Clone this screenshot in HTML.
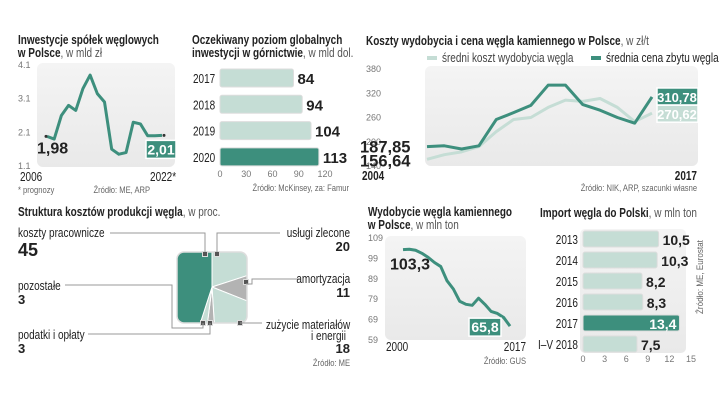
<!DOCTYPE html>
<html><head><meta charset="utf-8"><style>
body{margin:0;background:#fff}
svg{display:block;font-family:"Liberation Sans",sans-serif}
.t{font-weight:bold;font-size:12.5px;fill:#222}
.tn{font-weight:normal;fill:#555}
.tk{font-size:9px;fill:#777}
.src{font-size:9.5px;fill:#666}
.big{font-weight:bold;font-size:15px;fill:#222}
.lbl{font-size:12.5px;fill:#222}
</style></head><body>
<svg id="c" width="720" height="406" viewBox="0 0 720 406">
<defs>
<linearGradient id="bg" x1="0" y1="0" x2="0" y2="1"><stop offset="0" stop-color="#f4f4f4"/><stop offset="1" stop-color="#e9e9e9"/></linearGradient>
<clipPath id="sq"><rect x="177" y="252" width="70" height="71" rx="7"/></clipPath>
</defs>
<text x="18" y="44" class="t">Inwestycje spółek węglowych</text>
<text x="18" y="57" class="t">w Polsce<tspan class="tn">, w mld zł</tspan></text>
<text x="192" y="44" class="t">Oczekiwany poziom globalnych</text>
<text x="192" y="57" class="t">inwestycji w górnictwie<tspan class="tn">, w mld dol.</tspan></text>
<text x="366" y="45" class="t">Koszty wydobycia i cena węgla kamiennego w Polsce<tspan class="tn">, w zł/t</tspan></text>
<text x="18" y="216" class="t">Struktura kosztów produkcji węgla<tspan class="tn">, w proc.</tspan></text>
<text x="368" y="216" class="t">Wydobycie węgla kamiennego</text>
<text x="368" y="229" class="t">w Polsce<tspan class="tn">, w mln ton</tspan></text>
<text x="540" y="217" class="t">Import węgla do Polski<tspan class="tn">, w mln ton</tspan></text>

<rect x="37" y="63" width="138" height="104" rx="6" fill="url(#bg)"/>
<rect x="425" y="66" width="273" height="100" rx="6" fill="url(#bg)"/>
<rect x="385" y="236" width="141" height="104" rx="6" fill="url(#bg)"/>
<rect x="580" y="229" width="106" height="124" rx="5" fill="url(#bg)"/>

<line x1="427" y1="58" x2="437" y2="58" stroke="#c5ddd5" stroke-width="4"/>
<text x="442" y="62" class="lbl" style="fill:#444">średni koszt wydobycia węgla</text>
<line x1="591" y1="58" x2="601" y2="58" stroke="#3d8f7d" stroke-width="4"/>
<text x="606" y="62" class="lbl">średnia cena zbytu węgla</text>

<g id="g"></g>

<text x="20" y="181" class="lbl">2006</text>
<text x="176" y="181" class="lbl" text-anchor="end">2022*</text>
<text x="18" y="193" class="src">* prognozy</text>
<text x="150" y="193" class="src" text-anchor="end">Źródło: ME, ARP</text>
<text x="349" y="191" class="src" text-anchor="end">Źródło: McKinsey, za: Famur</text>
<text x="362" y="180" class="lbl" style="font-weight:bold">2004</text>
<text x="697" y="180" class="lbl" style="font-weight:bold" text-anchor="end">2017</text>
<text x="697" y="191" class="src" text-anchor="end">Źródło: NIK, ARP, szacunki własne</text>
<text x="386" y="351" class="lbl">2000</text>
<text x="526" y="351" class="lbl" text-anchor="end">2017</text>
<text x="526" y="364" class="src" text-anchor="end">Źródło: GUS</text>
<text transform="translate(703,314) rotate(-90) scale(0.85,1)" class="src">Źródło: ME, Eurostat</text>

<g fill="none" stroke="#999" stroke-width="1">
<polyline points="110,233 205,233 205,252"/>
<polyline points="280,233 217,233 217,252"/>
<polyline points="300,279 252,279 252,284 246,284"/>
<polyline points="65,285 172,285 172,328 203,328 203,323"/>
<polyline points="88,334 210,334 210,323"/>
<polyline points="262,323 240,323"/>
</g>
<text x="18" y="237" class="lbl">koszty pracownicze</text>
<text x="18" y="256" class="big" style="font-size:18px">45</text>
<text x="350" y="237" class="lbl" text-anchor="end">usługi zlecone</text>
<text x="350" y="251" class="big" style="font-size:13px" text-anchor="end">20</text>
<text x="350" y="283" class="lbl" text-anchor="end">amortyzacja</text>
<text x="350" y="297" class="big" style="font-size:13px" text-anchor="end">11</text>
<text x="18" y="290" class="lbl">pozostałe</text>
<text x="18" y="304" class="big" style="font-size:13px">3</text>
<text x="350" y="329" class="lbl" text-anchor="end">zużycie materiałów</text>
<text x="346" y="340" class="lbl" text-anchor="end">i energii</text>
<text x="350" y="353" class="big" style="font-size:13px" text-anchor="end">18</text>
<text x="18" y="339" class="lbl">podatki i opłaty</text>
<text x="18" y="353" class="big" style="font-size:13px">3</text>
<text x="350" y="366" class="src" text-anchor="end">Źródło: ME</text>
</svg>
<script>
// Investment line
const invYears=[2006,2007,2008,2009,2010,2011,2012,2013,2014,2015,2016,2017,2018,2019,2020,2021,2022];
const invValues=[1.98,1.9,2.6,2.9,2.75,3.4,3.8,3.25,3.0,1.6,1.45,1.5,2.4,2.35,2.0,2.0,2.01];
const invTicks=["4.1","3.1","2.1","1.1"];
// Global investment bars
const glYears=["2017","2018","2019","2020"];
const glValues=[84,94,104,113];
const glTicks=[0,30,60,90,120];
// Cost & price
const cpYears=[2004,2005,2006,2007,2008,2009,2010,2011,2012,2013,2014,2015,2016,2017];
const priceValues=[187.85,190,182,190,255,272,290,340,340,292,278,260,246,310.78];
const costValues=[156.64,168,175,188,225,255,260,285,303,300,307,285,250,270.62];
const cpTicks=[380,320,260,200,140];
// Cost structure
const structCats=["usługi zlecone","amortyzacja","zużycie materiałów i energii","podatki i opłaty","pozostałe","koszty pracownicze"];
const structValues=[20,11,18,3,3,45];
const structColors=["#c5ddd5","#b3b3b3","#c5ddd5","#b3b3b3","#c5ddd5","#3d8f7d"];
// Output line
const outYears=[2000,2001,2002,2003,2004,2005,2006,2007,2008,2009,2010,2011,2012,2013,2014,2015,2016,2017];
const outValues=[103.3,103.5,103.0,101.5,99.5,97.0,95.0,88.0,84.0,78.0,76.5,76.0,79.5,76.5,73.0,72.0,70.0,65.8];
const outTicks=[109,99,89,79,69,59];
// Import bars
const impYears=["2013","2014","2015","2016","2017","I–V 2018"];
const impValues=[10.5,10.3,8.2,8.3,13.4,7.5];
const impTicks=[0,3,6,9,12,15];

const NS="http://www.w3.org/2000/svg";
const G=document.getElementById('g');
function mk(tag,attrs,txt){const e=document.createElementNS(NS,tag);for(const k in attrs)e.setAttribute(k,attrs[k]);if(txt!==undefined)e.textContent=txt;G.appendChild(e);return e;}
const fmt=v=>v.toFixed(v%1===0?0:(String(v).split('.')[1]||'').length).replace('.',',');

// ---- investment
{const x=i=>47+i*(162-47)/(invYears.length-1), y=v=>166-(v-1.1)/3*101;
invTicks.forEach(t=>{const e=mk('text',{x:18,y:y(+t)+3,class:'tk'},t);

});
const p=mk('polyline',{points:invValues.map((v,i)=>x(i)+','+y(v)).join(' '),fill:'none',stroke:'#3d8f7d','stroke-width':3,'stroke-linejoin':'round'});


const n=invValues.length-1;
const d1=mk('circle',{cx:x(0)-1,cy:y(invValues[0]),r:1.5,fill:'#333'});


const d2=mk('circle',{cx:x(n)+2,cy:y(invValues[n]),r:1.5,fill:'#333'});


const a=mk('text',{x:37,y:y(invValues[0])+17,class:'big',style:'font-size:16px'},fmt(invValues[0]));


const r=mk('rect',{x:146,y:y(invValues[n])+5,width:30,height:18,fill:'#3d8f7d',stroke:'#fff','stroke-width':1.5});


const b=mk('text',{x:161,y:y(invValues[n])+19,class:'big','text-anchor':'middle',style:'fill:#fff;font-size:14px'},fmt(invValues[n]));

}

// ---- global bars
{const x=v=>220+v/120*105;
glTicks.forEach(t=>{const e=mk('text',{x:x(t),y:177,class:'tk','text-anchor':'middle'},t);

});
glYears.forEach((yr,i)=>{const cy=78+i*26.3;
const l=mk('text',{x:193,y:cy+5,class:'lbl'},yr);


const last=i===glYears.length-1;
const r=mk('rect',{x:220,y:cy-9,width:x(glValues[i])-220,height:18,rx:2,fill:last?'#3d8f7d':'#c5ddd5',stroke:'#ddd','stroke-width':1});


const v=mk('text',{x:x(glValues[i])+4,y:cy+6,class:'big',style:'font-size:15px'},glValues[i]);

});}

// ---- cost & price
{const x=i=>427+i*(652-427)/(cpYears.length-1), y=v=>166-(v-140)/240*97;
cpTicks.forEach(t=>{const e=mk('text',{x:366,y:y(t)+3,class:'tk'},t);

});
const c=mk('polyline',{points:costValues.map((v,i)=>x(i)+','+y(v)).join(' '),fill:'none',stroke:'#c5ddd5','stroke-width':3,'stroke-linejoin':'round'});


const p=mk('polyline',{points:priceValues.map((v,i)=>x(i)+','+y(v)).join(' '),fill:'none',stroke:'#3d8f7d','stroke-width':3,'stroke-linejoin':'round'});


const n=cpYears.length-1;
const a=mk('text',{x:360,y:y(priceValues[0])+6,class:'big',style:'font-size:16.5px'},fmt(priceValues[0]));


const b=mk('text',{x:360,y:y(costValues[0])+7,class:'big',style:'font-size:16.5px'},fmt(costValues[0]));


const r1=mk('rect',{x:657,y:y(priceValues[n])-9,width:41,height:17,fill:'#3d8f7d',stroke:'#fff','stroke-width':1.5});


const t1=mk('text',{x:677,y:y(priceValues[n])+5,class:'big',style:'font-size:13px;fill:#fff','text-anchor':'middle'},fmt(priceValues[n]));


const r2=mk('rect',{x:657,y:y(costValues[n])-8,width:41,height:17,fill:'#c5ddd5',stroke:'#fff','stroke-width':1.5});


const t2=mk('text',{x:677,y:y(costValues[n])+6,class:'big',style:'font-size:13px;fill:#fff','text-anchor':'middle'},fmt(costValues[n]));

}

// ---- structure pie in square
{const cx=212,cy=287,R=80;let a0=0;const tot=structValues.reduce((s,v)=>s+v,0);
const grp=document.createElementNS(NS,'g');grp.setAttribute('clip-path','url(#sq)');G.appendChild(grp);


structValues.forEach((v,i)=>{const a1=a0+v/tot*2*Math.PI;
const p1=[cx+R*Math.sin(a0),cy-R*Math.cos(a0)],p2=[cx+R*Math.sin(a1),cy-R*Math.cos(a1)];
const e=document.createElementNS(NS,'path');
e.setAttribute('d',`M${cx},${cy}L${p1}A${R},${R} 0 ${a1-a0>Math.PI?1:0} 1 ${p2}Z`);
e.setAttribute('fill',structColors[i]);e.setAttribute('stroke','#fff');e.setAttribute('stroke-width','1');


grp.appendChild(e);a0=a1;});
const o=mk('rect',{x:177,y:252,width:70,height:71,rx:7,fill:'none',stroke:'#ddd','stroke-width':1.5});


[[205,254],[217,254],[246,282],[240,323],[210,323],[203,323]].forEach(([px,py])=>{const m=mk('rect',{x:px-2.5,y:py-2.5,width:5,height:5,fill:'#555',stroke:'#ddd'});

});}

// ---- output line
{const x=i=>403+i*(510-403)/(outYears.length-1), y=v=>340-(v-59)/50*102;
outTicks.forEach(t=>{const e=mk('text',{x:368,y:y(t)+3,class:'tk'},t);

});
const p=mk('polyline',{points:outValues.map((v,i)=>x(i)+','+y(v)).join(' '),fill:'none',stroke:'#3d8f7d','stroke-width':3,'stroke-linejoin':'round'});


const n=outValues.length-1;
const a=mk('text',{x:390,y:y(outValues[0])+20,class:'big',style:'font-size:16px'},fmt(outValues[0]));


const r=mk('rect',{x:469,y:y(outValues[n])-8,width:32,height:18,fill:'#3d8f7d',stroke:'#fff','stroke-width':1.5});


const t=mk('text',{x:485,y:y(outValues[n])+6,class:'big',style:'font-size:14px;fill:#fff','text-anchor':'middle'},fmt(outValues[n]));

}

// ---- import bars
{const x=v=>583+v/15*108;
impTicks.forEach(t=>{const e=mk('text',{x:x(t),y:362,class:'tk','text-anchor':'middle'},t);

});
impYears.forEach((yr,i)=>{const cy=239+i*21;
const l=mk('text',{x:578,y:cy+5,class:'lbl','text-anchor':'end'},yr);


const hi=yr==="2017";
const r=mk('rect',{x:583,y:cy-8,width:x(impValues[i])-583,height:16,rx:2,fill:hi?'#3d8f7d':'#c5ddd5',stroke:'#ddd','stroke-width':1});


const v=mk('text',hi?{x:x(impValues[i])-3,y:cy+6,class:'big','text-anchor':'end',style:'font-size:14px;fill:#fff'}:{x:x(impValues[i])+4,y:cy+6,class:'big',style:'font-size:14px'},fmt(impValues[i]));

});}

// condense non-numeric text to mimic narrow typeface
document.querySelectorAll('text').forEach(e=>{
 if(e.hasAttribute('transform'))return;
 const c=e.getAttribute('class')||'';
 if(c.includes('big')||c.includes('tk'))return;
 const an=e.getAttribute('text-anchor');
 e.style.transformBox='fill-box';
 e.style.transformOrigin=an==='end'?'100% 0':(an==='middle'?'50% 0':'0 0');
 e.style.transform='scaleX(0.8)';
});
</script>
</body></html>
